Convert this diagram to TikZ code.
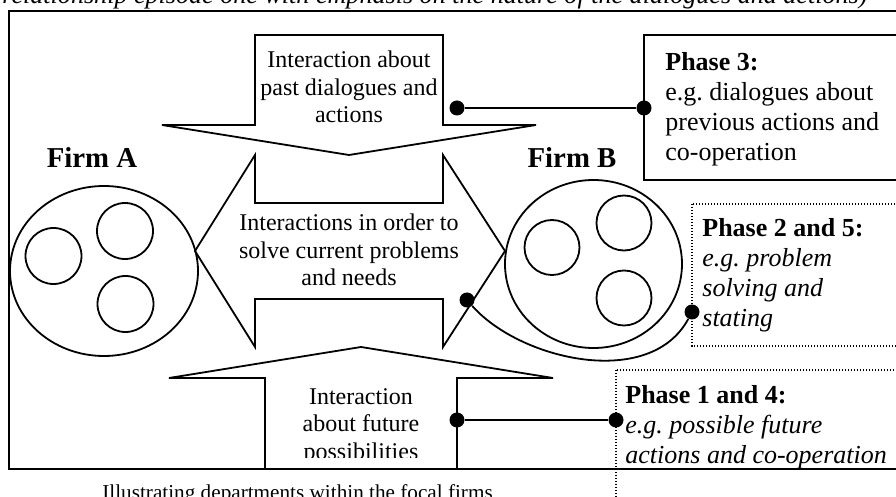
\documentclass[tikz,border=0pt]{standalone}
\usepackage{fontspec}
\setmainfont{Liberation Serif}
\usetikzlibrary{shapes.geometric}
\frenchspacing
\begin{document}
\begin{tikzpicture}[x=0.5pt,y=-0.5pt,
  shapeline/.style={line width=0.9pt, line join=miter},
  frameline/.style={line width=1.3pt},
  dotbox/.style={line width=0.8pt, dash pattern=on 0.7pt off 0.8pt},
  joint/.style={circle, fill=black, inner sep=0pt, minimum size=7.5pt},
  link/.style={line width=0.9pt},
  firm/.style={draw, ellipse, line width=0.9pt, inner sep=0pt},
  dept/.style={draw, circle, line width=0.9pt, inner sep=0pt, minimum size=28pt},
  arrowtext/.style={font=\fontsize{12}{13.8}\selectfont, align=center, anchor=base, inner sep=0pt},
  phasetext/.style={font=\fontsize{13}{15}\selectfont, align=left, anchor=base west, inner sep=0pt},
  firmlabel/.style={font=\fontsize{14.4}{16}\selectfont\bfseries, anchor=base, inner sep=0pt}
]
\useasboundingbox (0,0) rectangle (896,497);

% heading line (runs past the top edge)
\node[font=\fontsize{13.05}{15}\selectfont\itshape, anchor=base west, inner sep=0pt]
  (heading) at (2,3.5) {relationship episode one with emphasis on the nature of the dialogues and actions)};

% outer frame
\draw[frameline] (9,11) rectangle (905,469);

% multi-line texts are placed by the baseline of their last line

% arrow pointing down: past dialogues
\draw[shapeline] (255,35) -- (443,35) -- (443,125) -- (536,125) -- (349,155)
  -- (162,125) -- (255,125) -- cycle;
\node[arrowtext] (past) at (349,123) {Interaction about\\past dialogues and\\actions};

% double arrow between the firms: current problems
\draw[shapeline] (195,251) -- (255,155) -- (255,203) -- (443,203) -- (443,155)
  -- (505,251) -- (443,347) -- (443,299) -- (255,299) -- (255,347) -- cycle;
\node[arrowtext] (current) at (349,286) {Interactions in order to\\solve current problems\\and needs};

% arrow pointing up: future possibilities
\draw[shapeline] (265,468) -- (265,378) -- (169,378) -- (361,347) -- (553,378)
  -- (457,378) -- (457,468);
\begin{scope}
  \clip (265,340) rectangle (457,457.5);
  \node[arrowtext] (future) at (361,459.5) {Interaction\\about future\\possibilities};
\end{scope}

% firms and their departments
\node[firm, minimum width=94pt, minimum height=85pt] (firmA) at (104,271) {};
\node[dept] (a1) at (53.5,256) {};
\node[dept] (a2) at (125,231) {};
\node[dept] (a3) at (125.5,304) {};
\node[firmlabel] (labelA) at (92,168) {Firm A};

\node[firm, minimum width=88.5pt, minimum height=84pt] (firmB) at (593.5,264) {};
\node[dept, minimum size=27.5pt] (b1) at (552,247.5) {};
\node[dept, minimum size=27.5pt] (b2) at (624,223) {};
\node[dept, minimum size=27.5pt] (b3) at (624,298) {};
\node[firmlabel] (labelB) at (572,168) {Firm B};

% phase boxes
\draw[shapeline] (644,35) rectangle (905,180);
\node[phasetext] (phase3) at (665,161) {\textbf{Phase 3:}\\e.g. dialogues about\\previous actions and\\co-operation};

\draw[dotbox] (692,204) rectangle (905,346);
\node[phasetext] (phase25) at (702,327) {\textbf{Phase 2 and 5:}\\\textit{e.g. problem}\\\textit{solving and}\\\textit{stating}};

\draw[dotbox] (616,370) rectangle (905,520);
\node[phasetext] (phase14) at (625,464) {\textbf{Phase 1 and 4:}\\\textit{e.g. possible future}\\\textit{actions and co-operation}};

% connectors
\node[joint] (j3a) at (457,108) {};
\node[joint] (j3b) at (644,108) {};
\draw[link] (j3a) -- (j3b);

\node[joint] (j25a) at (467,300) {};
\node[joint] (j25b) at (692,312) {};
\draw[link] (j25a) .. controls (520,360) and (650,390) .. (j25b);

\node[joint] (j14a) at (457,420) {};
\node[joint] (j14b) at (616,420) {};
\draw[link] (j14a) -- (j14b);

% note below the frame
\node[font=\fontsize{10.6}{12}\selectfont, anchor=base west, inner sep=0pt]
  (note) at (102,500) {Illustrating departments within the focal firms};
\end{tikzpicture}
\end{document}
